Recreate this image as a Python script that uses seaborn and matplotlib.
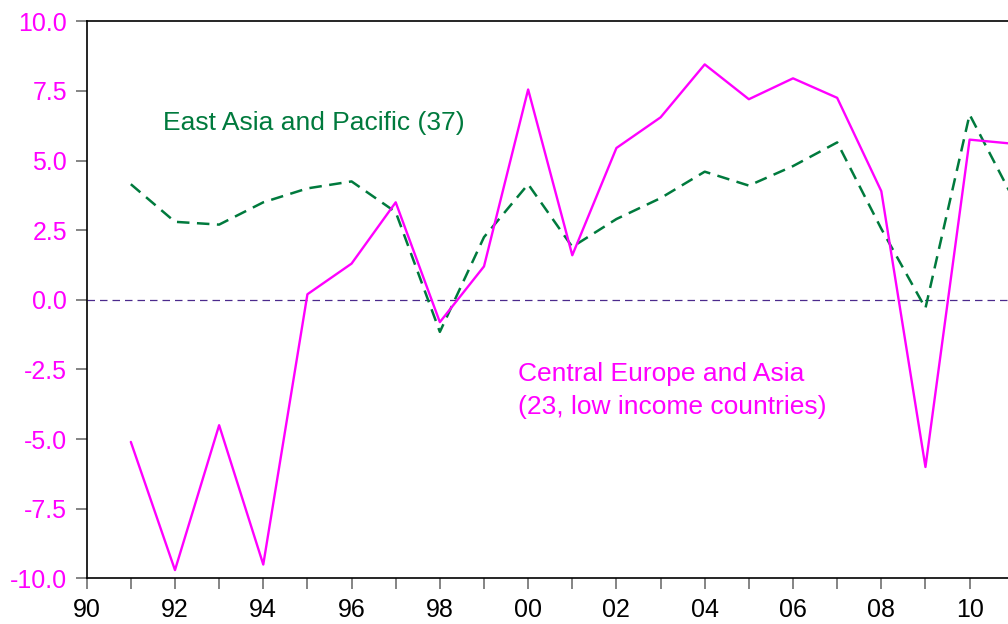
import numpy as np
import pandas as pd
import seaborn as sns
import matplotlib.pyplot as plt
from matplotlib.ticker import MultipleLocator, FuncFormatter

# Daten
years = list(range(1991, 2012))
central_europe = [-5.1, -9.7, -4.5, -9.5, 0.2, 1.3, 3.5, -0.8, 1.2, 7.55,
                  1.6, 5.45, 6.55, 8.45, 7.2, 7.95, 7.25, 3.9, -6.0, 5.75, 5.6]
east_asia = [4.15, 2.8, 2.7, 3.5, 4.0, 4.25, 3.15, -1.15, 2.25, 4.15,
             1.9, 2.9, 3.65, 4.6, 4.1, 4.8, 5.65, 2.55, -0.3, 6.65, 3.6]

df = pd.DataFrame({'year': years, 'ce': central_europe, 'ea': east_asia})

sns.set_style('white')
plt.rcParams['font.family'] = ['Liberation Sans', 'DejaVu Sans']

fig = plt.figure(figsize=(10.08, 6.24), dpi=100)
ax = fig.add_axes([0.086, 0.073, 0.914, 0.893])

magenta = '#ff00ff'
green = '#007a3d'

# Nulllinie, dann die beiden Reihen
ax.axhline(0, color='#4b2a8c', lw=0.9, ls=(0, (6, 4)), zorder=1)
sns.lineplot(data=df, x='year', y='ea', ax=ax, color=green, lw=1.8,
             linestyle=(0, (5, 3)), zorder=2)
sns.lineplot(data=df, x='year', y='ce', ax=ax, color=magenta, lw=1.7, zorder=3)

ax.set_xlim(1990, 2010.87)
ax.set_ylim(-10, 10)
ax.set_xlabel('')
ax.set_ylabel('')

ax.xaxis.set_major_locator(MultipleLocator(2))
ax.xaxis.set_minor_locator(MultipleLocator(1))
ax.xaxis.set_major_formatter(FuncFormatter(lambda v, p: f"{int(round(v)) % 100:02d}"))
ax.yaxis.set_major_locator(MultipleLocator(2.5))
ax.yaxis.set_major_formatter(FuncFormatter(lambda v, p: f"{v:.1f}"))

ax.tick_params(axis='both', which='both', direction='out', length=8, width=1.2,
               color='#707070', labelsize=18, pad=6)
ax.tick_params(axis='x', which='both', bottom=True, labelcolor='black')
ax.tick_params(axis='y', left=True, labelcolor=magenta)

for s in ['left', 'top', 'bottom']:
    ax.spines[s].set_visible(True)
    ax.spines[s].set_color('black')
    ax.spines[s].set_linewidth(1.2)
ax.spines['right'].set_visible(False)

ax.text(1991.73, 6.34, 'East Asia and Pacific (37)', color=green, fontsize=19,
        va='center', ha='left')
ax.text(1999.78, -3.26, 'Central Europe and Asia\n(23, low income countries)',
        color=magenta, fontsize=19, va='center', ha='left', linespacing=1.45)

plt.savefig('out.png', dpi=100)
plt.close()
